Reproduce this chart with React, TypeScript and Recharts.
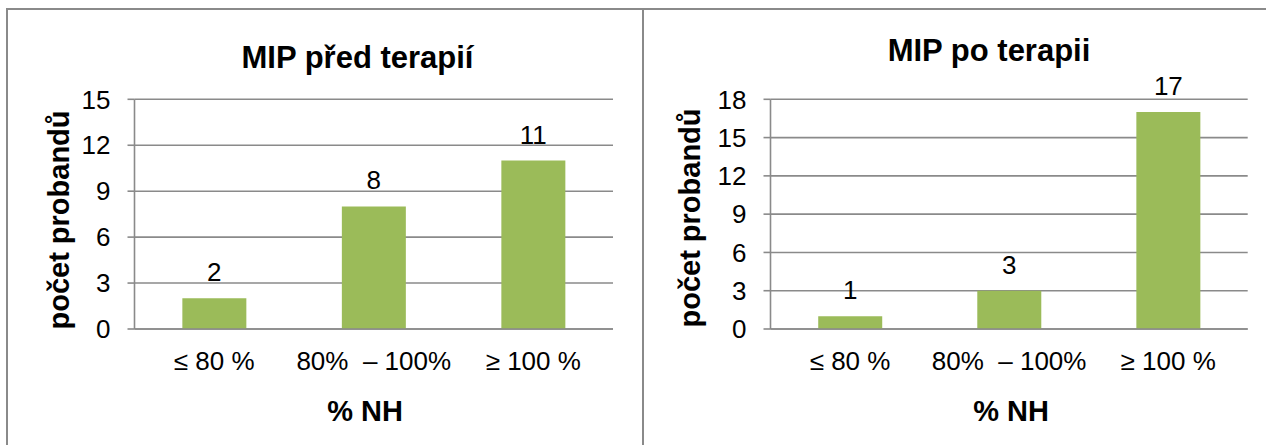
import React from 'react';
import { BarChart, Bar, XAxis, YAxis, CartesianGrid, LabelList } from 'recharts';

// categories of % of the normal value (NH) and number of subjects in each
const categories = ['≤ 80 %', '80%\u00a0 – 100%', '≥ 100 %'];
const beforeCounts = [2, 8, 11];
const afterCounts = [1, 3, 17];
const beforeTicks = [0, 3, 6, 9, 12, 15];
const afterTicks = [0, 3, 6, 9, 12, 15, 18];

const FONT = '"Liberation Sans", Arial, sans-serif';
const LINE = '#8a8a8a';
const BAR = '#9bbb59';
const H = 445;

interface PanelProps {
  title: string;
  counts: number[];
  ticks: number[];
  left: number;
  width: number;
  plotRight: number;
  titleX: number;
  titleY: number;
  yLabelX: number;
  yLabelY: number;
  xLabelX: number;
}

const MipPanel: React.FC<PanelProps> = ({
  title, counts, ticks, left, width, plotRight, titleX, titleY, yLabelX, yLabelY, xLabelX,
}) => {
  const data = categories.map((name, i) => ({ name, count: counts[i] }));
  const max = ticks[ticks.length - 1];

  return (
    <div style={{ position: 'absolute', left, top: 0, width, height: H }}>
      <BarChart
        width={width}
        height={H}
        data={data}
        margin={{ top: 99.3, right: width - plotRight, bottom: 76, left: 74.5 }}
        barCategoryGap="30%"
      >
        <CartesianGrid vertical={false} stroke={LINE} strokeWidth={1.6} />
        <XAxis
          dataKey="name"
          interval={0}
          height={40}
          tickLine={false}
          tickSize={0}
          tickMargin={22.5}
          axisLine={{ stroke: LINE, strokeWidth: 1.6 }}
          tick={{ fill: '#000', fontSize: 26 }}
        />
        <YAxis
          domain={[0, max]}
          ticks={ticks}
          interval={0}
          width={60}
          tickSize={7}
          tickMargin={17}
          axisLine={{ stroke: LINE, strokeWidth: 1.6 }}
          tickLine={{ stroke: LINE, strokeWidth: 1.6 }}
          tick={{ fill: '#000', fontSize: 26 }}
        />
        <Bar dataKey="count" fill={BAR} isAnimationActive={false}>
          <LabelList dataKey="count" position="top" offset={17} fill="#000" fontSize={26} />
        </Bar>
      </BarChart>

      {/* chart title and axis titles */}
      <svg
        width={width}
        height={H}
        style={{ position: 'absolute', left: 0, top: 0, pointerEvents: 'none' }}
      >
        <text x={titleX} y={titleY} textAnchor="middle" fontSize={31} fontWeight="bold" fill="#000">
          {title}
        </text>
        <text
          transform={`translate(${yLabelX},${yLabelY}) rotate(-90)`}
          textAnchor="middle"
          fontSize={29}
          fontWeight="bold"
          fill="#000"
        >
          počet probandů
        </text>
        <text x={xLabelX} y={421} textAnchor="middle" fontSize={29} fontWeight="bold" fill="#000">
          % NH
        </text>
      </svg>
    </div>
  );
};

export default function App() {
  return (
    <div
      style={{
        position: 'absolute',
        left: 0,
        top: 0,
        width: 1266,
        height: H,
        overflow: 'hidden',
        background: '#fff',
        fontFamily: FONT,
      }}
    >
      {/* frames around the two charts */}
      <div
        style={{
          position: 'absolute', left: 6, top: 8, width: 638, height: 460,
          boxSizing: 'border-box', borderLeft: `2px solid ${LINE}`,
          borderTop: `2px solid ${LINE}`, borderRight: `2px solid ${LINE}`,
        }}
      />
      <div
        style={{
          position: 'absolute', left: 642, top: 8, width: 700, height: 460,
          boxSizing: 'border-box', borderTop: `2px solid ${LINE}`,
        }}
      />

      <MipPanel
        title="MIP před terapií"
        counts={beforeCounts}
        ticks={beforeTicks}
        left={0}
        width={643}
        plotRight={613}
        titleX={357.5}
        titleY={68}
        yLabelX={69}
        yLabelY={220}
        xLabelX={365}
      />
      <MipPanel
        title="MIP po terapii"
        counts={afterCounts}
        ticks={afterTicks}
        left={636}
        width={630}
        plotRight={611.7}
        titleX={353}
        titleY={61}
        yLabelX={64}
        yLabelY={218}
        xLabelX={375}
      />
    </div>
  );
}
